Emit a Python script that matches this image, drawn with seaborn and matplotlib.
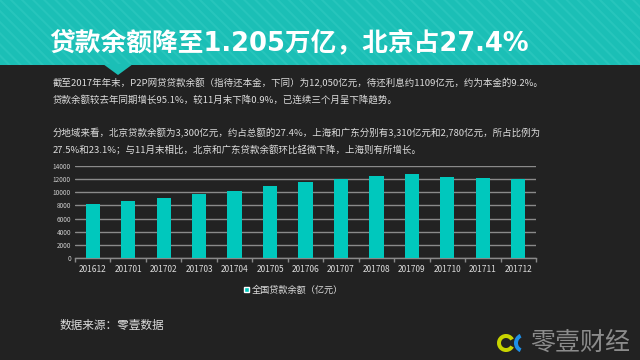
import matplotlib
matplotlib.use("Agg")
import matplotlib.pyplot as plt
import seaborn as sns
import numpy as np
from matplotlib.patches import Rectangle, Polygon, Wedge, Patch

# 数据
months = ["201612", "201701", "201702", "201703", "201704", "201705", "201706",
          "201707", "201708", "201709", "201710", "201711", "201712"]
balance = [8230, 8640, 9150, 9800, 10200, 10920, 11520,
           12070, 12430, 12740, 12330, 12130, 12050]
y_ticks = [0, 2000, 4000, 6000, 8000, 10000, 12000, 14000]

title = "贷款余额降至1.205万亿，北京占27.4%"
body_lines = [
    "截至2017年年末，P2P网贷贷款余额（指待还本金，下同）为12,050亿元，待还利息约1109亿元，约为本金的9.2%。",
    "贷款余额较去年同期增长95.1%，较11月末下降0.9%，已连续三个月呈下降趋势。",
    "分地域来看，北京贷款余额为3,300亿元，约占总额的27.4%，上海和广东分别有3,310亿元和2,780亿元，所占比例为",
    "27.5%和23.1%；与11月末相比，北京和广东贷款余额环比轻微下降，上海则有所增长。",
]
legend_label = "全国贷款余额（亿元）"
source = "数据来源：零壹数据"
brand = "零壹财经"

BG = "#222222"
TEAL = "#00C8BD"
BAR_TEAL = "#1BBFB6"
GRID = "#8a8a8a"

sns.set_theme(style="dark")
plt.rcParams["font.family"] = ["Noto Sans CJK SC", "DejaVu Sans"]
plt.rcParams["hatch.linewidth"] = 1.5

W, H = 640, 360
fig = plt.figure(figsize=(6.4, 3.6), dpi=100, facecolor=BG)

# 背景装饰层（像素坐标）
deco = fig.add_axes([0, 0, 1, 1], zorder=0)
deco.set_xlim(0, W)
deco.set_ylim(H, 0)
deco.axis("off")
deco.add_patch(Rectangle((0, 0), W, 65, facecolor=BAR_TEAL, edgecolor="#27C5BC",
                         hatch="\\\\\\", linewidth=0))
deco.add_patch(Polygon([(103, 64), (133, 64), (118, 75)], closed=True,
                       facecolor=BAR_TEAL, edgecolor="none"))
deco.text(49, 43, title, color="white", fontsize=18.5, fontweight="bold",
          family=["DejaVu Sans", "Noto Sans CJK SC"], va="center", ha="left")

for y, line in zip([83, 100, 133, 150], body_lines):
    deco.text(53, y, line, color="#dddddd", fontsize=6.8, va="center", ha="left")

deco.text(60, 326, source, color="#dddddd", fontsize=8.4, va="center", ha="left")

# logo
deco.add_patch(Wedge((506, 343), 9, 30, 330, width=4, facecolor="#c8d400", edgecolor="none"))
deco.add_patch(Wedge((524, 343), 10, 115, 245, width=4, facecolor="#1e8fe6", edgecolor="none"))
deco.text(530, 343, brand, color="#8c8c8c", fontsize=18, va="center", ha="left")

# 柱状图
ax = fig.add_axes([75 / W, 1 - 258 / H, (536 - 75) / W, (258 - 166) / H], zorder=1)
ax.set_facecolor("none")
sns.barplot(x=months, y=balance, ax=ax, color=TEAL, saturation=1, width=0.4,
            edgecolor="none", linewidth=0, label=legend_label, zorder=3)
ax.set_ylim(0, 14000)
ax.set_xlim(-0.5, len(months) - 0.5)
ax.set_yticks(y_ticks)
ax.set_yticklabels([str(t) for t in y_ticks])
ax.yaxis.grid(True, color=GRID, linewidth=1.0, zorder=0)
ax.xaxis.grid(False)
for s in ["top", "right", "left"]:
    ax.spines[s].set_visible(False)
ax.spines["bottom"].set_color(GRID)
ax.spines["bottom"].set_linewidth(1.0)
ax.tick_params(axis="y", length=0, labelsize=4.6, labelcolor="#cccccc", pad=3)
ax.tick_params(axis="x", which="major", length=0, labelsize=6, labelcolor="#dddddd", pad=5)
ax.set_xticks(np.arange(-0.5, len(months), 1), minor=True)
ax.tick_params(axis="x", which="minor", length=3, color=GRID, width=1.0, bottom=True)
ax.set_xlabel("")
ax.set_ylabel("")

leg = ax.legend(handles=[Patch(facecolor=TEAL, label=legend_label)],
                loc="center", bbox_to_anchor=(0.474, (258 - 290) / (258 - 166)),
                frameon=False, fontsize=6.6, labelcolor="#dddddd",
                handlelength=0.6, handleheight=0.6, handletextpad=0.3)

fig.savefig("out.png", dpi=100, facecolor=BG)
